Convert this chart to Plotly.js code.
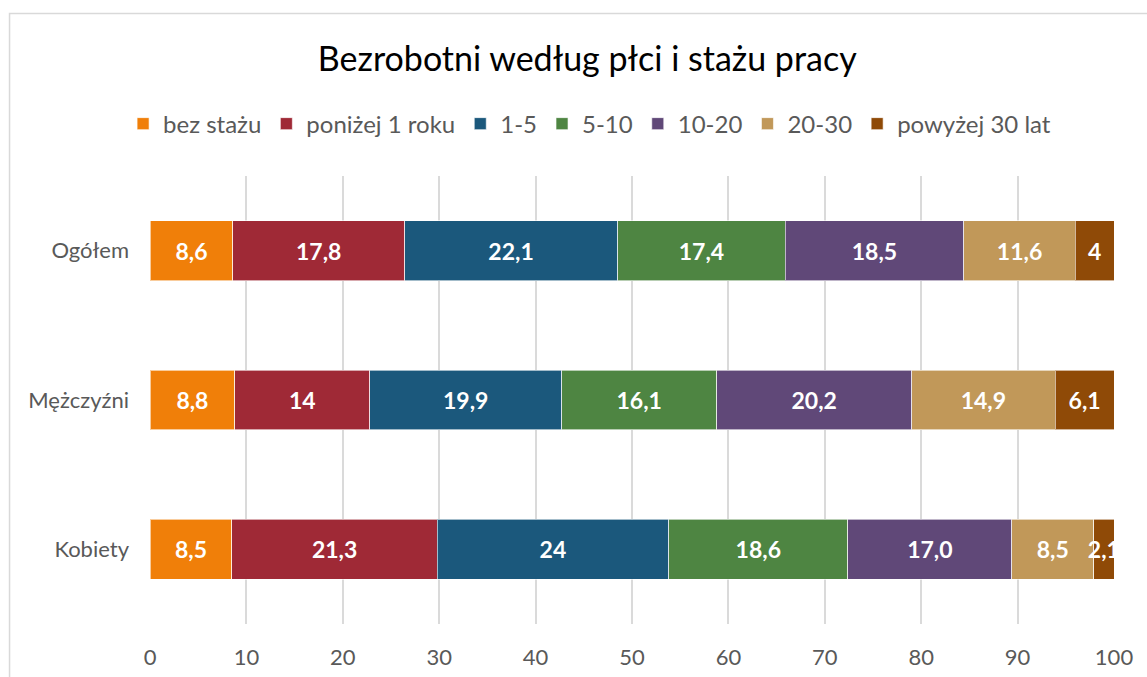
<!DOCTYPE html>
<html>
<head>
<meta charset="utf-8">
<script src="https://cdn.plot.ly/plotly-3.0.1.min.js"></script>
<style>html,body{margin:0;padding:0;background:#fff;}#chart{width:1147px;height:677px;}</style>
</head>
<body>
<div id="chart"></div>
<script>
const categories = ["Ogółem", "Mężczyźni", "Kobiety"];
const seriesNames = ["bez stażu", "poniżej 1 roku", "1-5", "5-10", "10-20", "20-30", "powyżej 30 lat"];
const bezStazu = [8.6, 8.8, 8.5];
const ponizej1 = [17.8, 14, 21.3];
const lat1_5 = [22.1, 19.9, 24];
const lat5_10 = [17.4, 16.1, 18.6];
const lat10_20 = [18.5, 20.2, 17.0];
const lat20_30 = [11.6, 14.9, 8.5];
const powyzej30 = [4, 6.1, 2.1];
const labels10_20 = ["18,5", "20,2", "17,0"];
const colors = ["#F07F09", "#9F2936", "#1B587C", "#4E8542", "#604878", "#C19859", "#8F4A07"];
const xTicks = [0, 10, 20, 30, 40, 50, 60, 70, 80, 90, 100];

const values = [bezStazu, ponizej1, lat1_5, lat5_10, lat10_20, lat20_30, powyzej30];
const fmt = v => String(v).replace('.', ',');
const FONT = 'Lato, "Open Sans", sans-serif';

const traces = values.map((vals, i) => ({
  type: 'bar',
  orientation: 'h',
  name: seriesNames[i],
  y: categories,
  x: vals,
  text: i === 4 ? labels10_20 : vals.map(fmt),
  textposition: 'inside',
  insidetextanchor: 'middle',
  textangle: 0,
  constraintext: 'none',
  cliponaxis: true,
  textfont: {family: FONT, size: 23, color: '#ffffff', weight: 'bold'},
  marker: {color: colors[i], line: {color: 'rgba(255,255,255,0.6)', width: 1}},
  hoverinfo: 'x+y+name'
}));

const layout = {
  width: 1147, height: 677,
  margin: {l: 150, r: 33, t: 176, b: 53},
  paper_bgcolor: '#ffffff', plot_bgcolor: '#ffffff',
  barmode: 'stack',
  bargap: 0.6,
  font: {family: FONT, color: '#595959', size: 22},
  title: {text: 'Bezrobotni według płci i stażu pracy', font: {family: FONT, size: 34, color: '#000000'},
          xref: 'container', x: 0.512, xanchor: 'center', yref: 'container', y: 0.913, yanchor: 'middle'},
  showlegend: true,
  legend: {orientation: 'h', x: 0.456, xanchor: 'center', y: 1.116, yanchor: 'middle',
           font: {family: FONT, size: 24, color: '#595959'}, traceorder: 'normal', itemclick: false},
  xaxis: {range: [0, 100], tickvals: xTicks, ticktext: xTicks.map(String), showgrid: true, gridcolor: '#DADADA', gridwidth: 2,
          zeroline: false, showline: false, ticks: '', ticklabelstandoff: 18, tickfont: {size: 22, color: '#595959'}, fixedrange: true},
  yaxis: {autorange: 'reversed', showgrid: false, zeroline: false, showline: false, ticks: '', ticklabelstandoff: 20,
          tickfont: {size: 22, color: '#595959'}, fixedrange: true},
  shapes: [{type: 'rect', xref: 'paper', yref: 'paper', x0: -0.1457, x1: 1.06, y0: -0.2, y1: 1.3627,
            line: {color: '#D9D9D9', width: 1.5}, fillcolor: 'rgba(0,0,0,0)', layer: 'below'}]
};

Plotly.newPlot('chart', traces, layout, {displayModeBar: false, staticPlot: true});
</script>
</body>
</html>
